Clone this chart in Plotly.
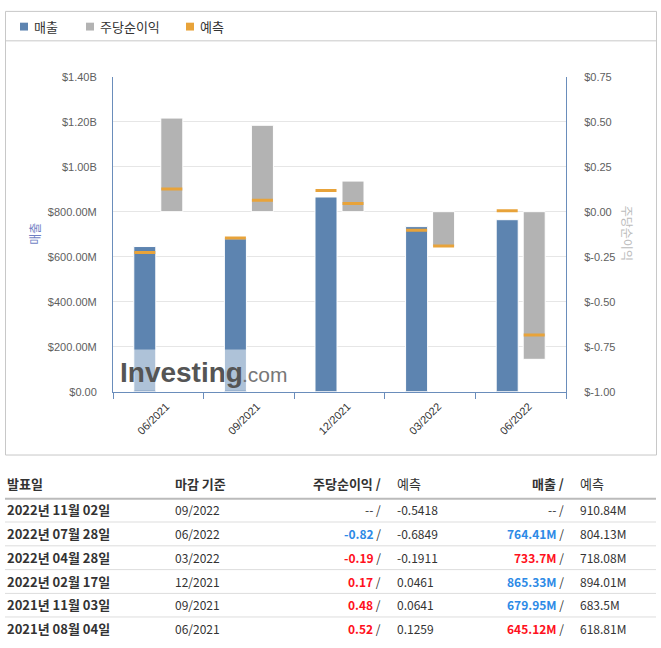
import plotly.graph_objects as go

# ---------------- data ----------------
periods = ["06/2021", "09/2021", "12/2021", "03/2022", "06/2022"]
revenue = [645.12e6, 679.95e6, 865.33e6, 733.7e6, 764.41e6]
revenue_fc = [618.81e6, 683.5e6, 894.01e6, 718.08e6, 804.13e6]
eps = [0.52, 0.48, 0.17, -0.19, -0.82]
eps_fc = [0.1259, 0.0641, 0.0461, -0.1911, -0.6849]

left_tickvals = [0, 0.2e9, 0.4e9, 0.6e9, 0.8e9, 1.0e9, 1.2e9, 1.4e9]
left_ticktext = ["$0.00", "$200.00M", "$400.00M", "$600.00M", "$800.00M", "$1.00B", "$1.20B", "$1.40B"]
right_tickvals = [-1.0, -0.75, -0.5, -0.25, 0.0, 0.25, 0.5, 0.75]
right_ticktext = ["$-1.00", "$-0.75", "$-0.50", "$-0.25", "$0.00", "$0.25", "$0.50", "$0.75"]

legend_labels = ["매출", "주당순이익", "예측"]

table_header = ["발표일", "마감 기준", "주당순이익 /", "예측", "매출 /", "예측"]
t_dates = ["2022년 11월 02일", "2022년 07월 28일", "2022년 04월 28일",
           "2022년 02월 17일", "2021년 11월 03일", "2021년 08월 04일"]
t_period = ["09/2022", "06/2022", "03/2022", "12/2021", "09/2021", "06/2021"]
t_eps = ["--", "-0.82", "-0.19", "0.17", "0.48", "0.52"]
t_eps_color = ["#333333", "#2d8ae6", "#ff1020", "#ff1020", "#ff1020", "#ff1020"]
t_eps_fc = ["-0.5418", "-0.6849", "-0.1911", "0.0461", "0.0641", "0.1259"]
t_rev = ["--", "764.41M", "733.7M", "865.33M", "679.95M", "645.12M"]
t_rev_color = ["#333333", "#2d8ae6", "#ff1020", "#2d8ae6", "#2d8ae6", "#ff1020"]
t_rev_fc = ["910.84M", "804.13M", "718.08M", "894.01M", "683.5M", "618.81M"]

# ---------------- style ----------------
W, H = 661, 648
BLUE = "#5d84b0"
GRAY = "#b3b3b3"
ORANGE = "#e8a33a"
AXIS = "#6a8dbb"
KFONT = "Noto Sans CJK KR, Noto Sans, sans-serif"
NFONT = "Liberation Sans, Arial, sans-serif"
BAR_W = 0.243
HALF_GAP = 0.149


def px(x):
    return x / W


def py(y):
    return 1 - y / H


idx = list(range(len(periods)))

fig = go.Figure()
fig.add_trace(go.Bar(x=idx, y=revenue, width=BAR_W, offset=-HALF_GAP - BAR_W / 2,
                     marker=dict(color=BLUE, line=dict(color="white", width=1)),
                     name="매출", yaxis="y"))
fig.add_trace(go.Bar(x=idx, y=eps, width=BAR_W, offset=HALF_GAP - BAR_W / 2,
                     marker=dict(color=GRAY, line=dict(color="white", width=1)),
                     name="주당순이익", yaxis="y2"))
fig.add_trace(go.Scatter(x=[i - HALF_GAP for i in idx], y=revenue_fc, mode="markers",
                         marker=dict(symbol="line-ew", size=15, line=dict(color=ORANGE, width=3)),
                         name="예측", yaxis="y"))
fig.add_trace(go.Scatter(x=[i + HALF_GAP for i in idx], y=eps_fc, mode="markers",
                         marker=dict(symbol="line-ew", size=15, line=dict(color=ORANGE, width=3)),
                         name="예측", yaxis="y2"))

fig.update_layout(
    width=W, height=H, autosize=False,
    margin=dict(l=0, r=0, t=0, b=0),
    paper_bgcolor="white", plot_bgcolor="white",
    showlegend=False, barmode="overlay",
    font=dict(family=NFONT, size=11, color="#606060"),
    xaxis=dict(domain=[px(113), px(566)], range=[-0.5, len(periods) - 0.5],
               tickmode="array", tickvals=idx, ticktext=periods, tickangle=-45,
               tickfont=dict(color="#333333", size=11, family=NFONT),
               showgrid=False, zeroline=False, showline=True, linecolor=AXIS, linewidth=1,
               ticks="", ticklabelstandoff=3, ticklabelshift=8,
               minor=dict(tickvals=[i - 0.5 for i in range(len(periods) + 1)],
                          ticks="outside", ticklen=6, tickcolor=AXIS, tickwidth=1, showgrid=False),
               anchor="y", fixedrange=True),
    yaxis=dict(domain=[py(393), py(72)], range=[0, 1.4e9],
               tickmode="array", tickvals=left_tickvals, ticktext=left_ticktext,
               showgrid=True, gridcolor="#e6e6e6", gridwidth=1, zeroline=False,
               showline=True, linecolor=AXIS, linewidth=1, ticks="", ticklabelstandoff=13,
               tickfont=dict(color="#606060", size=11, family=NFONT), anchor="x"),
    yaxis2=dict(overlaying="y", side="right", range=[-1.0, 0.75],
                tickmode="array", tickvals=right_tickvals, ticktext=right_ticktext,
                showgrid=False, zeroline=False, showline=True, linecolor=AXIS, linewidth=1,
                ticks="", ticklabelstandoff=15,
                tickfont=dict(color="#606060", size=11, family=NFONT), anchor="x"),
)

shapes = []
annotations = []

# chart box + legend separator
shapes.append(dict(type="rect", xref="paper", yref="paper", x0=px(5.5), x1=px(656.5),
                   y0=py(457.5), y1=py(5.5), line=dict(color="#c8c8c8", width=1), layer="below"))
shapes.append(dict(type="line", xref="paper", yref="paper", x0=px(5.5), x1=px(656.5),
                   y0=py(35.5), y1=py(35.5), line=dict(color="#c8c8c8", width=1), layer="below"))

# legend
legend_colors = [BLUE, GRAY, ORANGE]
legend_sq_x = [20, 86, 186]
for lbl, col, sx in zip(legend_labels, legend_colors, legend_sq_x):
    shapes.append(dict(type="rect", xref="paper", yref="paper", x0=px(sx), x1=px(sx + 8),
                       y0=py(25), y1=py(17), fillcolor=col, line=dict(width=0)))
    annotations.append(dict(text=lbl, xref="paper", yref="paper", x=px(sx + 12), y=py(21),
                            xanchor="left", yanchor="middle", showarrow=False,
                            font=dict(family=KFONT, size=13, color="#333333")))

# axis titles
annotations.append(dict(text="매출", xref="paper", yref="paper", x=px(35), y=py(232),
                        xanchor="center", yanchor="middle", showarrow=False, textangle=-90,
                        font=dict(family=KFONT, size=12, color="#6f7fc4")))
annotations.append(dict(text="주당순이익", xref="paper", yref="paper", x=px(627), y=py(231),
                        xanchor="center", yanchor="middle", showarrow=False, textangle=90,
                        font=dict(family=KFONT, size=12, color="#bbbbbb")))

# watermark
shapes.append(dict(type="rect", xref="paper", yref="paper", x0=px(116), x1=px(285),
                   y0=py(392), y1=py(350), fillcolor="rgba(255,255,255,0.5)",
                   line=dict(width=0), layer="above"))
annotations.append(dict(text="<b>Investing</b>", xref="paper", yref="paper", x=px(118), y=py(373),
                        xanchor="left", yanchor="middle", showarrow=False,
                        font=dict(family=NFONT, size=28, color="#555555")))
annotations.append(dict(text=".com", xref="paper", yref="paper", x=px(240), y=py(375),
                        xanchor="left", yanchor="middle", showarrow=False,
                        font=dict(family=NFONT, size=21, color="#777777")))

# table header
hx = [(5, "left"), (173, "left"), (383, "right"), (395, "left"), (566, "right"), (578, "left")]
for txt, (x, anc) in zip(table_header, hx):
    bold = txt not in ("예측",)
    annotations.append(dict(text=f"<b>{txt}</b>" if bold else txt, xref="paper", yref="paper",
                            x=px(x), y=py(487), xanchor=anc, yanchor="middle", showarrow=False,
                            font=dict(family=KFONT, size=13, color="#333333")))
shapes.append(dict(type="line", xref="paper", yref="paper", x0=px(5), x1=px(656),
                   y0=py(502), y1=py(502), line=dict(color="#bbbbbb", width=2)))

row_y = [513, 537.5, 561.5, 586, 610, 634]
for r in range(len(t_dates)):
    y = py(row_y[r])
    annotations.append(dict(text=f"<b>{t_dates[r]}</b>", xref="paper", yref="paper", x=px(5), y=y,
                            xanchor="left", yanchor="middle", showarrow=False,
                            font=dict(family=KFONT, size=13, color="#333333")))
    annotations.append(dict(text=t_period[r], xref="paper", yref="paper", x=px(173), y=y,
                            xanchor="left", yanchor="middle", showarrow=False,
                            font=dict(family=KFONT, size=12, color="#333333")))
    eps_txt = t_eps[r] if t_eps[r] == "--" else f"<b>{t_eps[r]}</b>"
    annotations.append(dict(text=f"<span style='color:{t_eps_color[r]}'>{eps_txt}</span> /",
                            xref="paper", yref="paper", x=px(383), y=y,
                            xanchor="right", yanchor="middle", showarrow=False,
                            font=dict(family=KFONT, size=12, color="#333333")))
    annotations.append(dict(text=t_eps_fc[r], xref="paper", yref="paper", x=px(395), y=y,
                            xanchor="left", yanchor="middle", showarrow=False,
                            font=dict(family=KFONT, size=12, color="#333333")))
    rev_txt = t_rev[r] if t_rev[r] == "--" else f"<b>{t_rev[r]}</b>"
    annotations.append(dict(text=f"<span style='color:{t_rev_color[r]}'>{rev_txt}</span> /",
                            xref="paper", yref="paper", x=px(566), y=y,
                            xanchor="right", yanchor="middle", showarrow=False,
                            font=dict(family=KFONT, size=12, color="#333333")))
    annotations.append(dict(text=t_rev_fc[r], xref="paper", yref="paper", x=px(578), y=y,
                            xanchor="left", yanchor="middle", showarrow=False,
                            font=dict(family=KFONT, size=12, color="#333333")))
    if r < len(t_dates) - 1:
        ly = py((row_y[r] + row_y[r + 1]) / 2 + 0.5)
        shapes.append(dict(type="line", xref="paper", yref="paper", x0=px(5), x1=px(656),
                           y0=ly, y1=ly, line=dict(color="#dddddd", width=1)))

fig.update_layout(shapes=shapes, annotations=annotations)
fig.write_html("out.html", config={"displayModeBar": False},
               post_script="document.body.style.margin='0';document.body.style.padding='0';"
                           "document.documentElement.style.overflow='hidden';")
